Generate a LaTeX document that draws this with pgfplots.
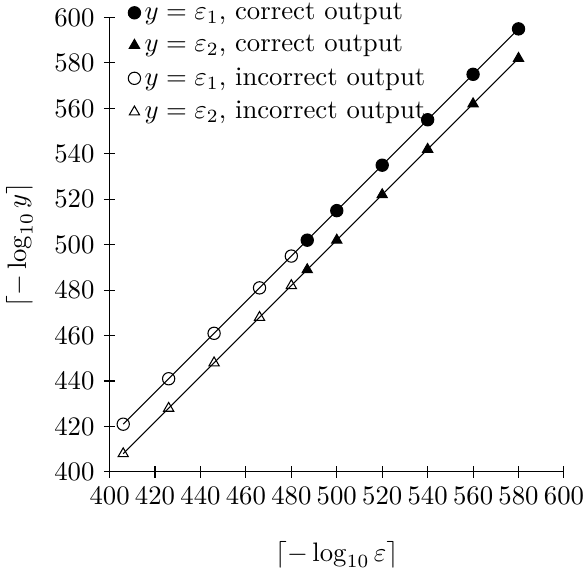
\documentclass[border=0pt]{standalone}
\usepackage{pgfplots}
\pgfplotsset{compat=1.18}
\begin{document}
\begin{tikzpicture}
\begin{axis}[
  scale only axis,
  width=170pt, height=170pt,
  xmin=400, xmax=600, ymin=400, ymax=600,
  xtick={400,420,...,600}, ytick={400,420,...,600},
  axis lines=left,
  axis line style={-},
  tick align=center,
  tick style={black, thin},
  xticklabel style={inner xsep=0pt},
  xlabel={$\lceil -\log_{10}\varepsilon\rceil$},
  ylabel={$\lceil -\log_{10} y\rceil$},
  xlabel style={yshift=-7pt},
  ylabel style={inner ysep=2.3pt, yshift=2.2pt},
  legend style={draw=none, fill=none, at={(0.04,1.037)}, anchor=north west,
    cells={anchor=west}, inner sep=0pt, row sep=3.5pt,
    nodes={inner xsep=1.5pt, inner ysep=0.5pt},
    /tikz/every even column/.append style={column sep=0pt}},
  legend image code/.code={\draw[#1] plot coordinates {(0.12cm,0cm)};},
]
% lines
\addplot[black, thin, forget plot] coordinates {(406,421)(426,441)(446,461)(466,481)(480,495)(487,502)(500,515)(520,535)(540,555)(560,575)(580,595)};
\addplot[black, thin, forget plot] coordinates {(406,408)(426,428)(446,448)(466,468)(480,482)(487,489)(500,502)(520,522)(540,542)(560,562)(580,582)};
% marks
\addplot[only marks, mark=*, mark size=2.3pt, black] coordinates {(487,502)(500,515)(520,535)(540,555)(560,575)(580,595)};
\addlegendentry{$y=\varepsilon_1$, correct output}
\addplot[only marks, mark=triangle*, mark size=2.2pt, black] coordinates {(487,489)(500,502)(520,522)(540,542)(560,562)(580,582)};
\addlegendentry{$y=\varepsilon_2$, correct output}
\addplot[only marks, mark=o, mark size=2.3pt, black, fill=white, mark options={fill=white}] coordinates {(406,421)(426,441)(446,461)(466,481)(480,495)};
\addlegendentry{$y=\varepsilon_1$, incorrect output}
\addplot[only marks, mark=triangle, mark size=2.2pt, black, mark options={fill=white}] coordinates {(406,408)(426,428)(446,448)(466,468)(480,482)};
\addlegendentry{$y=\varepsilon_2$, incorrect output}
\end{axis}
\end{tikzpicture}
\end{document}
